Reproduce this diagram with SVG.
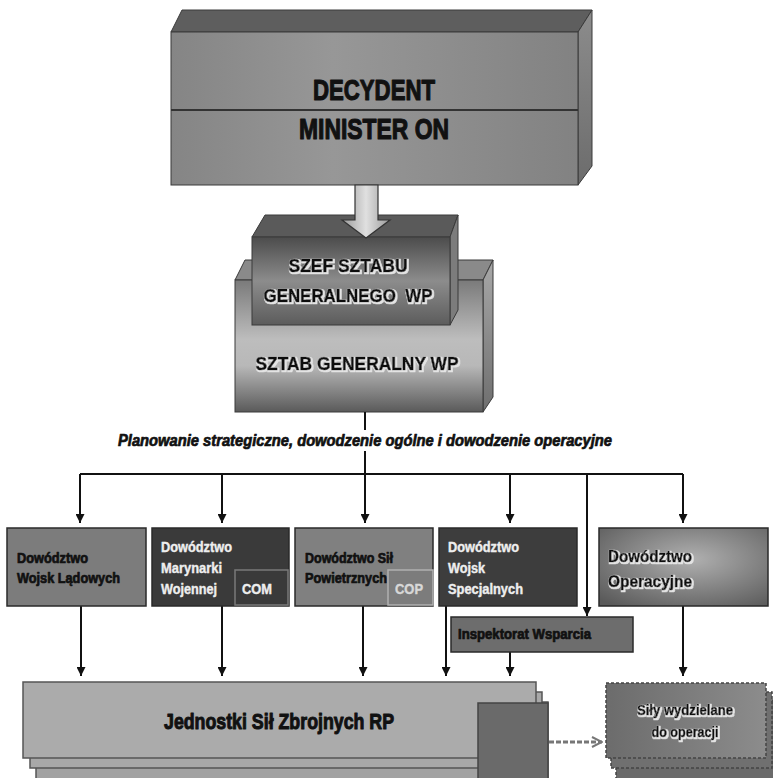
<svg xmlns="http://www.w3.org/2000/svg" width="773" height="778" viewBox="0 0 773 778">
<defs>
<style>
.t{font-family:"Liberation Sans",Arial,sans-serif;font-weight:bold;fill:#111;stroke:#111;stroke-width:0.7;stroke-linejoin:round}
.w{fill:#eeeeee;stroke:#eeeeee;stroke-width:0.4}
.glow{filter:url(#glowF)}
.ln{stroke:#111;stroke-width:2;fill:none}
.bx{stroke:#2a2a2a;stroke-width:1.5}
.edge{stroke:#3a3a3a;stroke-width:1}
</style>
<filter id="glowF" x="-10%" y="-30%" width="120%" height="160%">
<feMorphology in="SourceAlpha" operator="dilate" radius="1" result="d"/>
<feOffset in="d" dx="1" dy="1" result="o"/>
<feFlood flood-color="#e4e4e4"/>
<feComposite in2="o" operator="in" result="g"/>
<feMerge><feMergeNode in="g"/><feMergeNode in="SourceGraphic"/></feMerge>
</filter>
<linearGradient id="decFront" x1="0" y1="0" x2="1" y2="0">
<stop offset="0" stop-color="#858585"/><stop offset="0.4" stop-color="#979797"/><stop offset="1" stop-color="#828282"/>
</linearGradient>
<linearGradient id="decSide" x1="0" y1="0" x2="0" y2="1">
<stop offset="0" stop-color="#8c8c8c"/><stop offset="1" stop-color="#6c6c6c"/>
</linearGradient>
<linearGradient id="arrowG" x1="0" y1="0" x2="1" y2="0">
<stop offset="0" stop-color="#9a9a9a"/><stop offset="0.5" stop-color="#e0e0e0"/><stop offset="1" stop-color="#9a9a9a"/>
</linearGradient>
<linearGradient id="szefFront" x1="0" y1="0" x2="0" y2="1">
<stop offset="0" stop-color="#4c4c4c"/><stop offset="0.5" stop-color="#8c8c8c"/><stop offset="1" stop-color="#5c5c5c"/>
</linearGradient>
<linearGradient id="sztabFront" x1="0" y1="0" x2="0" y2="1">
<stop offset="0" stop-color="#7a7a7a"/><stop offset="0.45" stop-color="#bdbdbd"/><stop offset="0.65" stop-color="#b8b8b8"/><stop offset="1" stop-color="#5a5a5a"/>
</linearGradient>
<linearGradient id="sztabSide" x1="0" y1="0" x2="0" y2="1">
<stop offset="0" stop-color="#a8a8a8"/><stop offset="1" stop-color="#6e6e6e"/>
</linearGradient>
<radialGradient id="opG" cx="0.55" cy="0.4" r="0.75">
<stop offset="0" stop-color="#b0b0b0"/><stop offset="1" stop-color="#5a5a5a"/>
</radialGradient>
<linearGradient id="silyG" x1="0" y1="0" x2="1" y2="0">
<stop offset="0" stop-color="#6c6c6c"/><stop offset="1" stop-color="#8c8c8c"/>
</linearGradient>
<marker id="ah" viewBox="0 0 10 10" refX="10" refY="5" markerWidth="9" markerHeight="9" markerUnits="userSpaceOnUse" orient="auto">
<path d="M0,0 L10,5 L0,10 z" fill="#111"/>
</marker>
<marker id="oh" viewBox="0 0 12 12" refX="11" refY="6" markerWidth="12" markerHeight="14" markerUnits="userSpaceOnUse" orient="auto">
<path d="M1,1 L11,6 L1,11" fill="none" stroke="#777" stroke-width="2"/>
</marker>
</defs>
<rect width="773" height="778" fill="#ffffff"/>

<g id="decydent">
<polygon points="171,32 182,10 592,10 578,32" fill="#5e5e5e" class="edge"/>
<polygon points="578,32 592,10 592,166 578,185" fill="url(#decSide)" class="edge"/>
<rect x="171" y="32" width="407" height="153" fill="url(#decFront)" class="edge"/>
<line x1="171" y1="110" x2="578" y2="110" stroke="#333" stroke-width="2"/>
<text class="t" x="374" y="100" font-size="30" text-anchor="middle" textLength="122" lengthAdjust="spacingAndGlyphs" style="stroke-width:1.2">DECYDENT</text>
<text class="t" x="374" y="139" font-size="30" text-anchor="middle" textLength="150" lengthAdjust="spacingAndGlyphs" style="stroke-width:1.2">MINISTER ON</text>
</g>

<g id="sztab">
<polygon points="235,280 245,260 493,260 483,280" fill="#8a8a8a" class="edge"/>
<polygon points="483,280 493,260 493,397 483,412" fill="url(#sztabSide)" class="edge"/>
<rect x="235" y="280" width="248" height="132" fill="url(#sztabFront)" class="edge"/>
<text class="t glow" x="357" y="370" font-size="19" text-anchor="middle" textLength="203" lengthAdjust="spacingAndGlyphs">SZTAB GENERALNY WP</text>
</g>

<g id="szef">
<polygon points="252,237 265,215 458,215 450,237" fill="#5a5a5a" class="edge"/>
<polygon points="450,237 458,215 458,310 450,325" fill="#7c7c7c" class="edge"/>
<rect x="252" y="237" width="198" height="88" fill="url(#szefFront)" class="edge"/>
<text class="t glow" x="348" y="272" font-size="18" text-anchor="middle" textLength="119" lengthAdjust="spacingAndGlyphs">SZEF SZTABU</text>
<text class="t glow" x="348" y="302" font-size="18" text-anchor="middle" textLength="169" lengthAdjust="spacingAndGlyphs" xml:space="preserve">GENERALNEGO  WP</text>
</g>

<g id="bigArrow">
<polygon points="355,185 378,185 378,220 390,220 366,238 342,220 355,220" fill="url(#arrowG)" stroke="#333" stroke-width="1.2"/>
</g>

<g id="label">
<text class="t" x="365" y="446" font-size="16" font-style="italic" text-anchor="middle" textLength="494" lengthAdjust="spacingAndGlyphs">Planowanie strategiczne, dowodzenie ogólne i dowodzenie operacyjne</text>
</g>

<g id="connectors">
<line class="ln" x1="365" y1="412" x2="365" y2="430"/>
<line class="ln" x1="365" y1="451" x2="365" y2="474"/>
<line class="ln" x1="80" y1="474" x2="683" y2="474"/>
<line class="ln" x1="80" y1="474" x2="80" y2="523" marker-end="url(#ah)"/>
<line class="ln" x1="222" y1="474" x2="222" y2="523" marker-end="url(#ah)"/>
<line class="ln" x1="365" y1="474" x2="365" y2="523" marker-end="url(#ah)"/>
<line class="ln" x1="510" y1="474" x2="510" y2="523" marker-end="url(#ah)"/>
<line class="ln" x1="683" y1="474" x2="683" y2="523" marker-end="url(#ah)"/>
<line class="ln" x1="587" y1="474" x2="587" y2="616" marker-end="url(#ah)"/>
<line class="ln" x1="81" y1="606" x2="81" y2="676" marker-end="url(#ah)"/>
<line class="ln" x1="222" y1="606" x2="222" y2="676" marker-end="url(#ah)"/>
<line class="ln" x1="363" y1="606" x2="363" y2="676" marker-end="url(#ah)"/>
<line class="ln" x1="446" y1="606" x2="446" y2="676" marker-end="url(#ah)"/>
<line class="ln" x1="510" y1="652" x2="510" y2="676" marker-end="url(#ah)"/>
<line class="ln" x1="683" y1="606" x2="683" y2="676" marker-end="url(#ah)"/>
<line x1="549" y1="742" x2="602" y2="742" stroke="#777" stroke-width="3" stroke-dasharray="5,2" marker-end="url(#oh)"/>
</g>

<g id="dwl">
<rect class="bx" x="7" y="528" width="139" height="78" fill="#7c7c7c"/>
<text class="t" x="17" y="563" font-size="14" textLength="71" lengthAdjust="spacingAndGlyphs">Dowództwo</text>
<text class="t" x="17" y="583" font-size="14" textLength="103" lengthAdjust="spacingAndGlyphs">Wojsk Lądowych</text>
</g>

<g id="dmw">
<rect class="bx" x="152" y="528" width="137" height="78" fill="#3a3a3a"/>
<text class="t w" x="161" y="552" font-size="14" textLength="71" lengthAdjust="spacingAndGlyphs">Dowództwo</text>
<text class="t w" x="161" y="573" font-size="14" textLength="61" lengthAdjust="spacingAndGlyphs">Marynarki</text>
<text class="t w" x="161" y="594" font-size="14" textLength="56" lengthAdjust="spacingAndGlyphs">Wojennej</text>
</g>
<g id="com">
<rect x="235" y="570" width="53" height="35" fill="#3a3a3a" stroke="#7a7a7a" stroke-width="1.5"/>
<text class="t w" x="242" y="594" font-size="14" textLength="30" lengthAdjust="spacingAndGlyphs">COM</text>
</g>

<g id="dsp">
<rect class="bx" x="295" y="528" width="138" height="78" fill="#808080"/>
<text class="t" x="305" y="563" font-size="14" textLength="88" lengthAdjust="spacingAndGlyphs">Dowództwo Sił</text>
<text class="t" x="305" y="583" font-size="14" textLength="82" lengthAdjust="spacingAndGlyphs">Powietrznych</text>
</g>
<g id="cop">
<rect x="388" y="570" width="45" height="35" fill="#7c7c7c" stroke="#b0b0b0" stroke-width="1.5"/>
<text class="t" x="395" y="594" font-size="14" style="fill:#d8d8d8;stroke:#d8d8d8;stroke-width:0.4" textLength="28" lengthAdjust="spacingAndGlyphs">COP</text>
</g>

<g id="dws">
<rect class="bx" x="439" y="528" width="138" height="78" fill="#3d3d3d"/>
<text class="t w" x="448" y="552" font-size="14" textLength="71" lengthAdjust="spacingAndGlyphs">Dowództwo</text>
<text class="t w" x="448" y="573" font-size="14" textLength="37" lengthAdjust="spacingAndGlyphs">Wojsk</text>
<text class="t w" x="448" y="594" font-size="14" textLength="75" lengthAdjust="spacingAndGlyphs">Specjalnych</text>
</g>

<g id="dop">
<rect class="bx" x="599" y="528" width="169" height="78" fill="url(#opG)"/>
<text class="t glow" x="608" y="562" font-size="17" textLength="84" lengthAdjust="spacingAndGlyphs">Dowództwo</text>
<text class="t glow" x="608" y="587" font-size="17" textLength="84" lengthAdjust="spacingAndGlyphs">Operacyjne</text>
</g>

<g id="iw">
<rect class="bx" x="451" y="617" width="182" height="35" fill="#6d6d6d"/>
<text class="t" x="458" y="639" font-size="14" textLength="133" lengthAdjust="spacingAndGlyphs">Inspektorat Wsparcia</text>
</g>

<g id="jednostki">
<rect x="36" y="702" width="512" height="90" fill="#a2a2a2" stroke="#555" stroke-width="1.5"/>
<rect x="30" y="692" width="512" height="76" fill="#a8a8a8" stroke="#555" stroke-width="1.5"/>
<rect x="23" y="682" width="513" height="76" fill="#ababab" stroke="#555" stroke-width="1.5"/>
<rect x="478" y="703" width="70" height="85" fill="#6a6a6a" stroke="#444" stroke-width="1.5"/>
<text class="t" x="279" y="729" font-size="22" text-anchor="middle" textLength="230" lengthAdjust="spacingAndGlyphs" style="stroke-width:1">Jednostki Sił Zbrojnych RP</text>
</g>

<g id="sily">
<rect x="616" y="700" width="170" height="90" fill="#6a6a6a" stroke="#444" stroke-width="1.5" stroke-dasharray="3,2"/>
<rect x="611" y="692" width="161" height="76" fill="#707070" stroke="#444" stroke-width="1.5" stroke-dasharray="3,2"/>
<rect x="606" y="683" width="160" height="75" fill="url(#silyG)" stroke="#444" stroke-width="1.5" stroke-dasharray="3,2"/>
<text class="t glow" x="685" y="715" font-size="15" text-anchor="middle" textLength="96" lengthAdjust="spacingAndGlyphs">Siły wydzielane</text>
<text class="t glow" x="685" y="737" font-size="15" text-anchor="middle" textLength="67" lengthAdjust="spacingAndGlyphs">do operacji</text>
</g>
</svg>
